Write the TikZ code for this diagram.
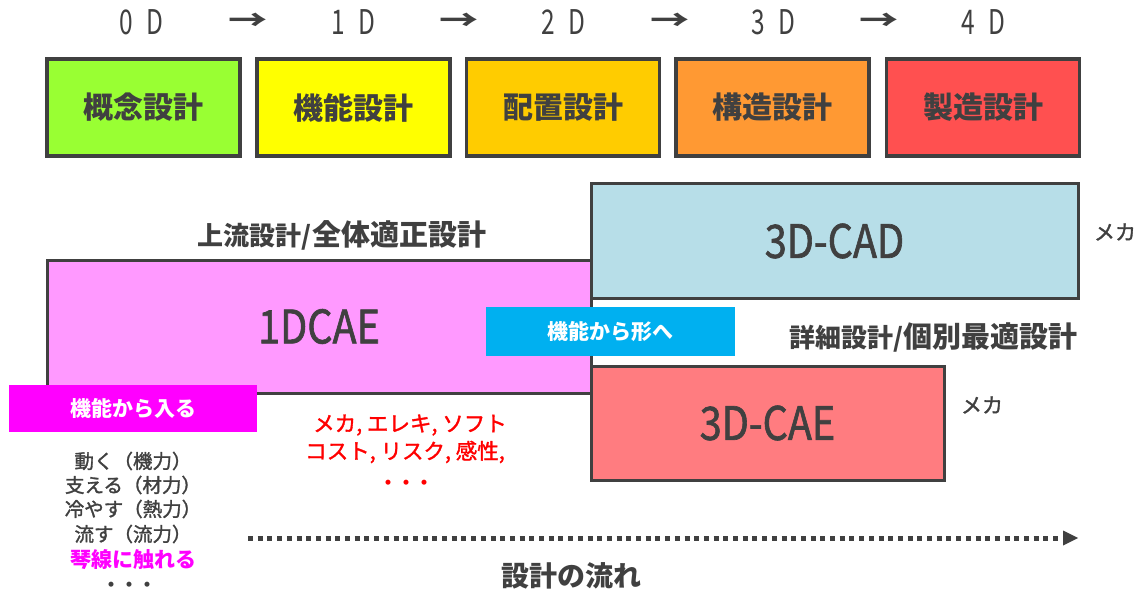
\documentclass[tikz,border=0pt]{standalone}
\usepackage{fontspec}
\usepackage{graphicx}
\setmainfont{Noto Sans CJK JP}
\newfontfamily\semibold[FakeBold=1.5]{Noto Sans CJK JP}
\usetikzlibrary{arrows.meta}
\definecolor{dk}{HTML}{404040}
\definecolor{cA}{HTML}{99FF33}
\definecolor{cB}{HTML}{FFFF00}
\definecolor{cC}{HTML}{FFCC00}
\definecolor{cD}{HTML}{FF9933}
\definecolor{cE}{HTML}{FF5050}
\definecolor{cadblue}{HTML}{B7DEE8}
\definecolor{caepink}{HTML}{FF99FF}
\definecolor{caered}{HTML}{FF7C80}
\definecolor{cyanbox}{HTML}{00B0F0}
\definecolor{magbox}{HTML}{FF00FF}
\definecolor{redtxt}{HTML}{FF0000}
\newcommand{\fs}[1]{\fontsize{#1}{#1}\selectfont}
\newcommand{\cond}[2]{\scalebox{#1}[1]{#2}}
\begin{document}
\begin{tikzpicture}[x=1pt,y=-1pt,
  stagebox/.style={draw=dk, line width=3.5pt, minimum width=193pt, minimum height=97pt, inner sep=0pt, text=dk, font=\fs{30}\bfseries},
  dimlabel/.style={inner sep=0pt, text=dk, font=\fs{34}},
  dimarrow/.style={inner sep=0pt, text=dk, font=\fs{28}\bfseries},
  bigbox/.style={draw=dk, line width=3pt, inner sep=0pt, text=dk, font=\fs{46}\semibold},
  tagbox/.style={inner sep=0pt, text=white, font=\fs{21}\bfseries},
  heading/.style={inner sep=0pt, text=dk, font=\fs{29}\bfseries},
  plain/.style={inner sep=0pt, text=dk, font=\fs{19.5}\semibold},
  redline/.style={inner sep=0pt, text=redtxt, font=\fs{21.5}\semibold},
  mekalabel/.style={inner sep=0pt, text=dk, font=\fs{21}\semibold},
  flow/.style={draw=dk, line width=5pt, dash pattern=on 5pt off 4.7pt, -{Triangle[length=15pt,width=15pt,line width=0pt]}}
]
\useasboundingbox (0,0) rectangle (1143,596);

% dimension header
\node[dimlabel] (d0) at (141,22) {\cond{0.72}{0\hspace{0.55em}D}};
\node[dimarrow] (a1) at (248,22) {\cond{1.4}{→}};
\node[dimlabel] (d1) at (353,22) {\cond{0.72}{1\hspace{0.55em}D}};
\node[dimarrow] (a2) at (459,22) {\cond{1.4}{→}};
\node[dimlabel] (d2) at (563,22) {\cond{0.72}{2\hspace{0.55em}D}};
\node[dimarrow] (a3) at (670,22) {\cond{1.4}{→}};
\node[dimlabel] (d3) at (773,22) {\cond{0.72}{3\hspace{0.55em}D}};
\node[dimarrow] (a4) at (879,22) {\cond{1.4}{→}};
\node[dimlabel] (d4) at (983,22) {\cond{0.72}{4\hspace{0.55em}D}};

% stage boxes
\node[stagebox, fill=cA] (s1) at (143.5,107.5) {概念設計};
\node[stagebox, fill=cB] (s2) at (353.5,107.5) {機能設計};
\node[stagebox, fill=cC] (s3) at (563,107.5) {配置設計};
\node[stagebox, fill=cD] (s4) at (772.5,107.5) {構造設計};
\node[stagebox, fill=cE] (s5) at (983,107.5) {製造設計};

% headings
\node[heading] (up) at (342,235) {{\fs{26}上流設計/}全体適正設計};
\node[heading] (down) at (933.5,337) {{\fs{26}詳細設計/}個別最適設計};

% big boxes
\node[bigbox, fill=caepink, minimum width=544pt, minimum height=133pt] (onedcae) at (319,326.5) {\cond{0.86}{1DCAE}};
\node[bigbox, fill=cadblue, minimum width=487pt, minimum height=114pt] (cad) at (834.5,241) {\cond{0.86}{3D-CAD}};
\node[bigbox, fill=caered, minimum width=353pt, minimum height=114pt] (cae) at (767.5,423) {\cond{0.86}{3D-CAE}};

% tag boxes
\node[tagbox, fill=cyanbox, minimum width=249pt, minimum height=49pt] (form) at (610.5,331.5) {機能から形へ};
\node[tagbox, fill=magbox, minimum width=248pt, minimum height=47pt] (func) at (133,408.5) {機能から入る};

% meka labels
\node[mekalabel] (m1) at (1115,232) {メカ};
\node[mekalabel] (m2) at (982,405) {メカ};

% red list
\node[redline] (r1) at (410,425) {メカ, エレキ, ソフト};
\node[redline] (r2) at (405,452) {コスト, リスク, 感性,};
\node[inner sep=0pt, text=redtxt, font=\fs{18}\bfseries] (r3) at (406,485) {・・・};

% left list
\node[plain] (l1) at (133,461) {動く（機力）};
\node[plain] (l2) at (133,485) {支える（材力）};
\node[plain] (l3) at (133,509) {冷やす（熱力）};
\node[plain] (l4) at (133,534) {流す（流力）};
\node[inner sep=0pt, text=magbox, font=\fs{21}\bfseries] (l5) at (133,560) {琴線に触れる};
\node[inner sep=0pt, text=dk, font=\fs{18}\bfseries] (l6) at (129,587) {・・・};

% flow arrow
\coordinate (fs) at (248,538);
\coordinate (fe) at (1078,538);
\draw[flow] (fs) -- (fe);
\node[heading, font=\fs{28}\bfseries] (flowlabel) at (571,576) {設計の流れ};
\end{tikzpicture}
\end{document}
